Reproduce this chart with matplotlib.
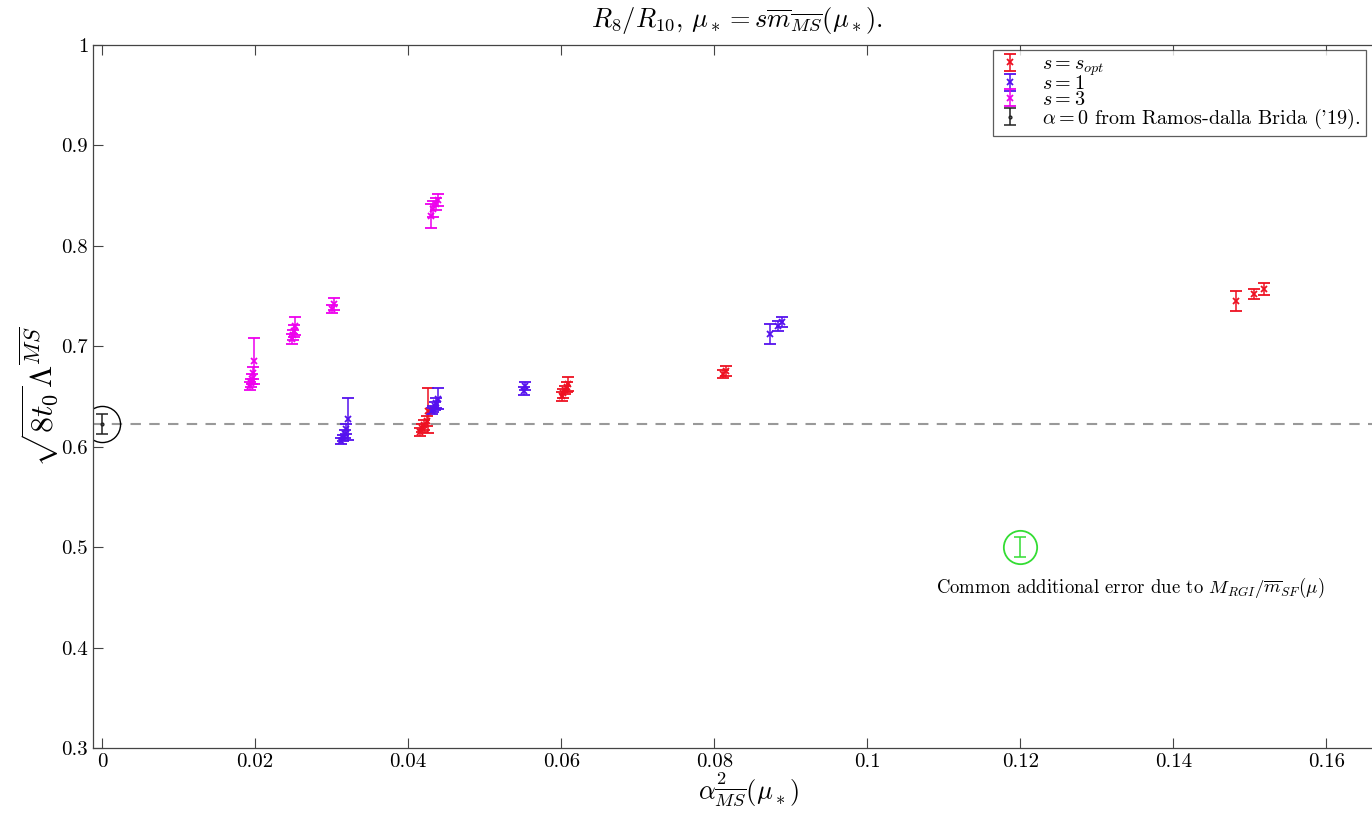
import matplotlib
matplotlib.use("Agg")
import matplotlib.pyplot as plt
from matplotlib.container import ErrorbarContainer
from matplotlib.legend_handler import HandlerErrorbar

plt.rcParams['font.family'] = ['cmr10', 'DejaVu Serif']
plt.rcParams['mathtext.fontset'] = 'cm'
plt.rcParams['axes.formatter.use_mathtext'] = True

# s = s_opt
sopt_x = [0.0415, 0.0418, 0.0421, 0.0424, 0.0426, 0.0601, 0.0603, 0.0605, 0.0607, 0.0609,
          0.0812, 0.0815, 0.1482, 0.1505, 0.1518]
sopt_y = [0.615, 0.619, 0.622, 0.626, 0.636, 0.650, 0.653, 0.656, 0.659, 0.662,
          0.672, 0.675, 0.745, 0.752, 0.757]
sopt_err = [0.004, 0.004, 0.005, 0.005, 0.022, 0.004, 0.004, 0.004, 0.005, 0.007,
            0.004, 0.005, 0.010, 0.005, 0.006]

# s = 1
s1_x = [0.0312, 0.0315, 0.0317, 0.0319, 0.0322, 0.0431, 0.0433, 0.0435, 0.0437, 0.0439,
        0.0551, 0.0553, 0.0873, 0.0883, 0.0888]
s1_y = [0.606, 0.609, 0.613, 0.618, 0.628, 0.636, 0.638, 0.641, 0.644, 0.648,
        0.655, 0.660, 0.712, 0.720, 0.724]
s1_err = [0.003, 0.003, 0.004, 0.005, 0.021, 0.003, 0.003, 0.004, 0.005, 0.010,
          0.004, 0.004, 0.010, 0.005, 0.005]

# s = 3
s3_x = [0.0194, 0.0195, 0.0196, 0.0197, 0.0198, 0.0248, 0.0249, 0.0251, 0.0252,
        0.0301, 0.0303, 0.0430, 0.0433, 0.0436, 0.0439]
s3_y = [0.660, 0.663, 0.667, 0.673, 0.685, 0.707, 0.711, 0.715, 0.720,
        0.737, 0.742, 0.830, 0.837, 0.842, 0.846]
s3_err = [0.004, 0.004, 0.005, 0.006, 0.023, 0.005, 0.005, 0.006, 0.009,
          0.004, 0.006, 0.012, 0.008, 0.006, 0.006]

# continuum reference and common error
ref_x, ref_y, ref_err = 0.0, 0.6225, 0.01
common_x, common_y, common_err = 0.12, 0.50, 0.01

xticks = [0, 0.02, 0.04, 0.06, 0.08, 0.1, 0.12, 0.14, 0.16]
xtick_labels = ['0', '0.02', '0.04', '0.06', '0.08', '0.1', '0.12', '0.14', '0.16']
yticks = [0.3, 0.4, 0.5, 0.6, 0.7, 0.8, 0.9, 1.0]
ytick_labels = ['0.3', '0.4', '0.5', '0.6', '0.7', '0.8', '0.9', '1']

red = '#ee1122'
blue = '#5511ee'
magenta = '#ee00ee'
green = '#33dd33'

fig = plt.figure(figsize=(13.72, 8.21), dpi=100)
ax = fig.add_axes([93 / 1372, 1 - 748 / 821, (1403 - 93) / 1372, (748 - 45) / 821])

ax.axhline(ref_y, color='#999999', linestyle=(0, (5, 4)), linewidth=1.5, zorder=1)

kw = dict(fmt='x', markersize=4, capsize=4, elinewidth=1.1, capthick=1.1, markeredgewidth=1.3)
ax.errorbar(sopt_x, sopt_y, yerr=sopt_err, color=red, label=r'$s = s_{opt}$', **kw)
ax.errorbar(s1_x, s1_y, yerr=s1_err, color=blue, label=r'$s = 1$', **kw)
ax.errorbar(s3_x, s3_y, yerr=s3_err, color=magenta, label=r'$s = 3$', **kw)
ax.errorbar([ref_x], [ref_y], yerr=[ref_err], fmt='o', markersize=2, markerfacecolor='none',
            color='#222222', capsize=4, elinewidth=1.1, capthick=1.1,
            label=r"$\alpha = 0$ from Ramos-dalla Brida ('19).")
ax.plot([ref_x], [ref_y], 'o', markersize=26, markerfacecolor='none',
        markeredgecolor='black', markeredgewidth=1.0)

ax.errorbar([common_x], [common_y], yerr=[common_err], fmt='none', color=green, capsize=4,
            elinewidth=1.1, capthick=1.1)
ax.plot([common_x], [common_y], 'o', markersize=24, markerfacecolor='none',
        markeredgecolor=green, markeredgewidth=1.3)
ax.text(0.1343, 0.459, r'Common additional error due to $M_{RGI}/\overline{m}_{SF}(\mu)$',
        ha='center', va='center', fontsize=13.5)

ax.set_xlim(-0.00118, 0.17)
ax.set_ylim(0.3, 1.0)
ax.set_xticks(xticks)
ax.set_xticklabels(xtick_labels)
ax.set_yticks(yticks)
ax.set_yticklabels(ytick_labels)
ax.tick_params(direction='in', top=True, right=True, length=7, labelsize=15, color='#444444')
for s in ax.spines.values():
    s.set_color('#444444')
    s.set_linewidth(0.9)

fig.text(737 / 1372, 1 - 20 / 821, r'$R_8/R_{10},\, \mu_* = s\overline{m}_{\overline{MS}}(\mu_*).$',
         ha='center', va='center', fontsize=19)
ax.set_xlabel(r'$\alpha^2_{\overline{MS}}(\mu_*)$', fontsize=19, labelpad=0)
ax.set_ylabel(r'$\sqrt{8t_0}\Lambda^{\overline{MS}}$', fontsize=23, labelpad=0)

leg = fig.legend(loc='upper right', bbox_to_anchor=(1366 / 1372, 1 - 50 / 821),
                 fontsize=14.5, frameon=True, fancybox=False, edgecolor='#333333',
                 handlelength=1.2, handletextpad=1.0, labelspacing=-0.12, borderpad=0.25,
                 borderaxespad=0,
                 handler_map={ErrorbarContainer: HandlerErrorbar(xerr_size=0.25, yerr_size=0.42)})
leg.get_frame().set_linewidth(0.9)

fig.savefig('out.png', dpi=100)
